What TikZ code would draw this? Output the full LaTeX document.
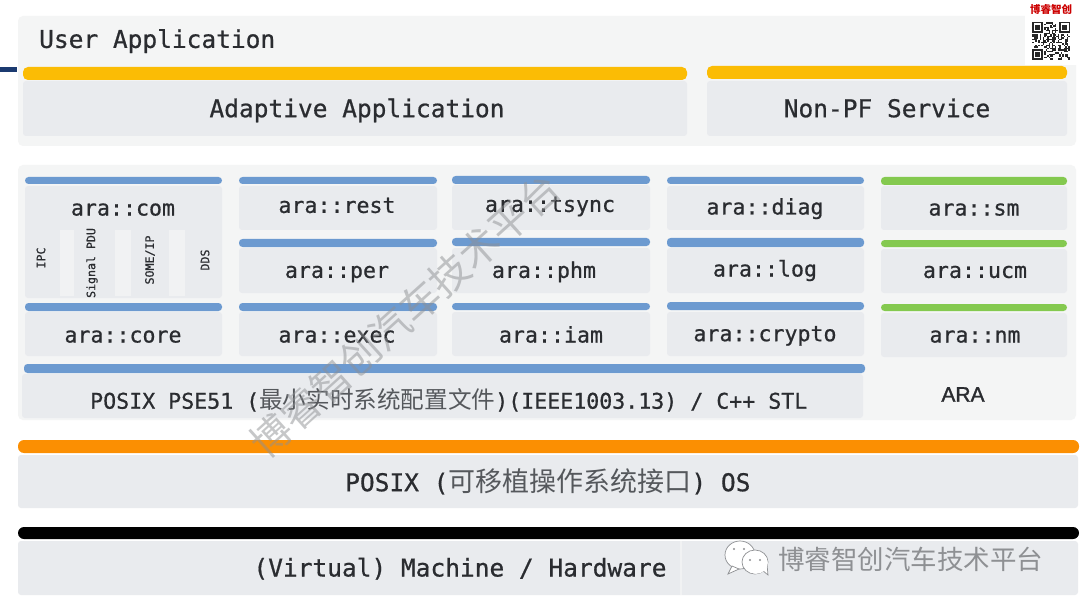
\documentclass[tikz,border=0pt]{standalone}
\usepackage{fontspec}
\setmainfont[FakeBold=0.7]{DejaVu Sans Mono}
\newfontfamily\cjk{Noto Sans CJK SC}
\newfontfamily\arasans[FakeBold=1.5]{Liberation Sans}
\definecolor{panelc}{HTML}{F4F5F5}
\definecolor{boxc}{HTML}{E9EBEE}
\definecolor{yellowc}{HTML}{FBBC05}
\definecolor{bluec}{HTML}{6C9AD0}
\definecolor{greenc}{HTML}{84C94F}
\definecolor{orangec}{HTML}{FB8F02}
\definecolor{inkc}{HTML}{2A2C30}
\definecolor{cjkc}{HTML}{55585C}
\definecolor{stripc}{HTML}{F1F2F3}
\definecolor{wmc}{HTML}{8E9093}
\definecolor{navyc}{HTML}{1B3A70}
\tikzset{
  panel/.style={fill=panelc,rounded corners=5pt},
  boxf/.style={fill=boxc,rounded corners=3pt},
  ybar/.style={fill=yellowc,rounded corners=5pt},
  bbar/.style={fill=bluec,rounded corners=3.5pt},
  gbar/.style={fill=greenc,rounded corners=3.5pt},
  big/.style={anchor=base,yshift=-1.2pt,text=inkc,font=\fontsize{24.5}{26}\selectfont,inner sep=0pt},
  mid/.style={anchor=base,yshift=-1.2pt,text=inkc,font=\fontsize{21.6}{24}\selectfont,inner sep=0pt},
  tiny/.style={text=inkc,rotate=90,font=\fontsize{11.6}{13}\selectfont,inner sep=0pt},
  mark1/.style={text=wmc,opacity=.5,inner sep=0pt,font=\cjk\fontsize{40}{42}\selectfont},
  mark2/.style={text=wmc,inner sep=0pt,font=\cjk\fontsize{26.5}{28}\selectfont},
  bubble/.style={fill=white,draw=wmc,line width=.7pt},
}
\begin{document}
\begin{tikzpicture}[x=1pt,y=-1pt]
\useasboundingbox (0,0) rectangle (1080,607);
\fill[white] (0,0) rectangle (1080,607);
% left accent
\fill[navyc] (0,67.5) rectangle (17,72);
% panel 1
\path[panel] (18,16) rectangle (1076,146);
\path[boxf] (23,81) rectangle (687,136);
\path[boxf] (707,81) rectangle (1067,136);
\path[ybar] (23,67) rectangle (687,80);
\path[ybar] (707,66) rectangle (1067,79);
\node[big,anchor=base west] (user) at (39,46.7) {User Application};
\node[big] (adaptive) at (357,116) {Adaptive Application};
\node[big] (nonpf) at (887,116) {Non-PF Service};
% panel 2
\path[panel] (18,165) rectangle (1076,420);
% boxes
\path[boxf] (25,186) rectangle (222,298);
\path[boxf] (239,186) rectangle (437,230);
\path[boxf] (452,185) rectangle (650,230);
\path[boxf] (667,186) rectangle (864,230);
\path[boxf] (881,186) rectangle (1067,230);
\path[boxf] (239,248) rectangle (437,293);
\path[boxf] (452,248) rectangle (650,293);
\path[boxf] (667,248) rectangle (864,293);
\path[boxf] (881,249) rectangle (1067,293);
\path[boxf] (25,312) rectangle (222,356);
\path[boxf] (239,312) rectangle (437,356);
\path[boxf] (452,312) rectangle (650,356);
\path[boxf] (667,312) rectangle (864,356);
\path[boxf] (881,313) rectangle (1067,357);
\path[boxf] (22,374) rectangle (863,418);
% strips in com
\fill[stripc] (60,230) rectangle (74,296);
\fill[stripc] (115,230) rectangle (131,296);
\fill[stripc] (169,230) rectangle (185,296);
% bars
\path[bbar] (25,177) rectangle (222,184);
\path[bbar] (239,177) rectangle (437,184);
\path[bbar] (452,176) rectangle (650,184);
\path[bbar] (667,177) rectangle (864,184);
\path[gbar] (881,177) rectangle (1067,185);
\path[bbar] (239,239) rectangle (437,247);
\path[bbar] (452,238) rectangle (650,246);
\path[bbar] (667,238) rectangle (864,247);
\path[gbar] (881,240) rectangle (1067,247);
\path[bbar] (25,303) rectangle (222,311);
\path[bbar] (239,303) rectangle (437,311);
\path[bbar] (452,303) rectangle (650,310);
\path[bbar] (667,302) rectangle (864,310);
\path[gbar] (881,304) rectangle (1067,311);
\path[bbar] (24,364) rectangle (865,373);
% labels
\node[mid] (com) at (123,214.3) {ara::com};
\node[mid] (rest) at (337,211.7) {ara::rest};
\node[mid] (tsync) at (550,210.7) {ara::tsync};
\node[mid] (diag) at (765,213.3) {ara::diag};
\node[mid] (sm) at (974,214.3) {ara::sm};
\node[mid] (per) at (337,276.7) {ara::per};
\node[mid] (phm) at (544,276.7) {ara::phm};
\node[mid] (logn) at (765,275.3) {ara::log};
\node[mid] (ucm) at (975,276.7) {ara::ucm};
\node[mid] (core) at (123,341.3) {ara::core};
\node[mid] (exec) at (337,341.3) {ara::exec};
\node[mid] (iam) at (551,341.3) {ara::iam};
\node[mid] (crypto) at (765,340) {ara::crypto};
\node[mid] (nm) at (975,341.3) {ara::nm};
\node[tiny] (ipc) at (41,258) {IPC};
\node[tiny] (signal) at (92,263) {Signal PDU};
\node[tiny] (someip) at (150,260) {SOME/IP};
\node[tiny] (dds) at (205,260) {DDS};
\node[mid,anchor=base west] (pse) at (90,407.5) {POSIX PSE51 ({\cjk\color{cjkc}\fontsize{23.6}{25}\selectfont 最小实时系统配置文件})(IEEE1003.13) / C++ STL};
\node[anchor=base,inner sep=0pt,text=inkc,font=\arasans\fontsize{21}{23}\selectfont] (ara) at (963,401.7) {ARA};
% posix os
\path[boxf] (18,455) rectangle (1078,508);
\path[fill=orangec,rounded corners=6pt] (18,440) rectangle (1079,453);
\node[big,anchor=base west] (posix) at (345,490) {POSIX ({\cjk\color{cjkc}\fontsize{27}{29}\selectfont 可移植操作系统接口}) OS};
% machine
\path[boxf] (18,541) rectangle (1078,595);
\fill[stripc] (680,541) rectangle (681.5,595);
\path[fill=black,rounded corners=6pt] (18,527) rectangle (1079,539);
\node[big] (machine) at (460,575.3) {(Virtual) Machine / Hardware};
% watermarks
\node[mark1,rotate=42] (wm) at (405,315) {博睿智创汽车技术平台};
\path[bubble] (740,555) ellipse (15 and 14);
\path[bubble] (732,566) -- (728,574) -- (739,569) -- cycle;
\path[bubble] (755,562) ellipse (13 and 12);
\path[bubble] (762,570) -- (768,575) -- (767,564) -- cycle;
\fill[white] (756,563) ellipse (11.8 and 10.8);
\fill[wmc] (734,549) circle (1.1) (744,549) circle (1.1) (750,560) circle (1.1) (760,560) circle (1.1);
\node[mark2,anchor=west] (wm2) at (778,559) {博睿智创汽车技术平台};
% QR corner
\fill[white] (1025,0) rectangle (1078,65);
\node[inner sep=0pt,text=red!80!black,font=\cjk\bfseries\fontsize{10.5}{12}\selectfont] (brand) at (1051,9) {博睿智创};
\begin{scope}[shift={(1032,22)}]
\pgfmathsetseed{7}
\foreach \i in {0,...,24}{\foreach \j in {0,...,24}{
  \pgfmathsetmacro{\rr}{rnd}
  \ifdim\rr pt>.5pt \fill[black!85] (\i*1.52,\j*1.52) rectangle ++(1.52,1.52);\fi
}}
\foreach \cx/\cy in {0/0,27.4/0,0/27.4}{
  \fill[white] (\cx-1,\cy-1) rectangle ++(12.6,12.6);
  \fill[black!85] (\cx,\cy) rectangle ++(10.6,10.6);
  \fill[white] (\cx+1.5,\cy+1.5) rectangle ++(7.6,7.6);
  \fill[black!85] (\cx+3,\cy+3) rectangle ++(4.6,4.6);
}
\end{scope}
\end{tikzpicture}
\end{document}
